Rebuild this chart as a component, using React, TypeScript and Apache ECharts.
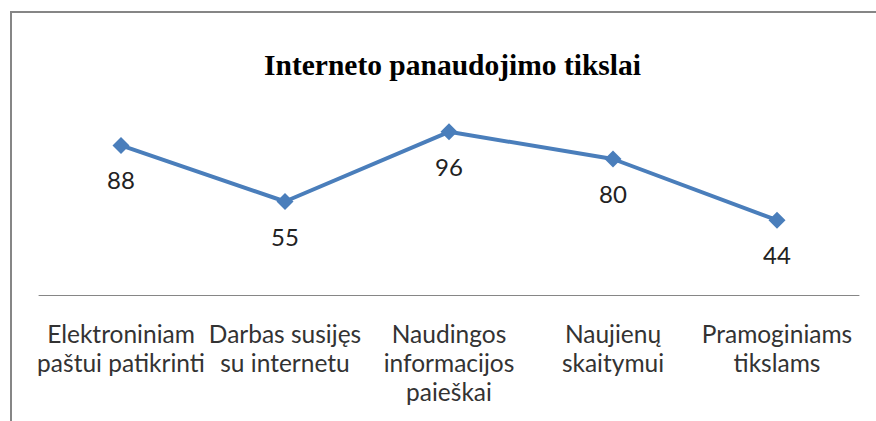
import React, { useEffect, useRef } from "react";
import * as echarts from "echarts";

const title = "Interneto panaudojimo tikslai";
const categories = [
  "Elektroniniam\npaštui patikrinti",
  "Darbas susijęs\nsu internetu",
  "Naudingos\ninformacijos\npaieškai",
  "Naujienų\nskaitymui",
  "Pramoginiams\ntikslams",
];
const values = [88, 55, 96, 80, 44];

export default function App() {
  const ref = useRef<HTMLDivElement>(null);
  useEffect(() => {
    if (!ref.current) return;
    const chart = echarts.init(ref.current, undefined, { renderer: "svg" });
    chart.setOption({
      animation: false,
      backgroundColor: "#ffffff",
      title: {
        text: title,
        left: 259,
        top: 45,
        textStyle: {
          fontFamily: "Liberation Serif",
          fontWeight: "bold",
          fontSize: 29.5,
          color: "#000",
        },
      },
      graphic: [
        {
          type: "rect",
          shape: { x: 11, y: 12, width: 900, height: 500 },
          style: { fill: "none", stroke: "#868686", lineWidth: 2 },
          silent: true,
        },
      ],
      grid: { left: 39, right: 17, top: 91, bottom: 126 },
      xAxis: {
        type: "category",
        data: categories,
        boundaryGap: true,
        axisLine: { show: true, lineStyle: { color: "#868686", width: 1 } },
        axisTick: { show: false },
        axisLabel: {
          interval: 0,
          margin: 24,
          fontFamily: "Lato",
          fontSize: 24.5,
          lineHeight: 29,
          color: "#333",
          align: "center",
        },
      },
      yAxis: {
        type: "value",
        min: 0,
        max: 120,
        show: false,
        splitLine: { show: false },
      },
      series: [
        {
          type: "line",
          data: values,
          symbol: "diamond",
          symbolSize: 17,
          lineStyle: { color: "#4a7ebb", width: 4 },
          itemStyle: { color: "#4a7ebb" },
          label: {
            show: true,
            position: "bottom",
            distance: 14,
            fontFamily: "Lato",
            fontSize: 24,
            color: "#222",
          },
        },
      ],
    });
    return () => chart.dispose();
  }, []);
  return (
    <div
      ref={ref}
      style={{ position: "fixed", left: 0, top: 0, width: 876, height: 421 }}
    />
  );
}
